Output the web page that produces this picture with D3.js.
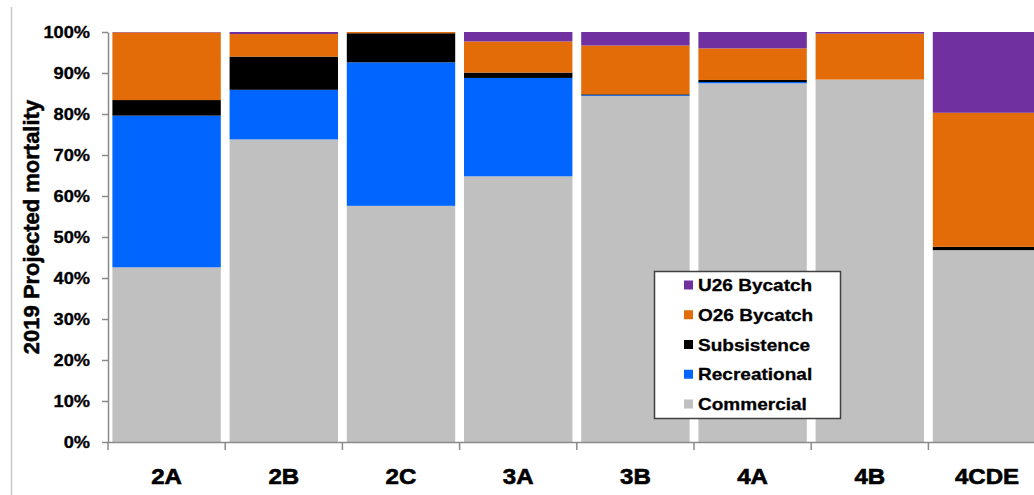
<!DOCTYPE html>
<html>
<head>
<meta charset="utf-8">
<script src="https://cdn.jsdelivr.net/npm/d3@7"></script>
<style>
  html, body { margin: 0; padding: 0; background: #fff; }
  svg { display: block; font-family: "Liberation Sans", Arial, sans-serif; }
</style>
</head>
<body>
<svg id="chart" width="1034" height="495"></svg>
<script>
const categories = ["2A", "2B", "2C", "3A", "3B", "4A", "4B", "4CDE"];
const commercial   = [42.6, 73.8, 57.6, 64.8, 84.4, 87.5, 88.4, 46.8];
const recreational = [37.0, 12.1, 35.0, 24.0, 0.2, 0.3, 0.0, 0.0];
const subsistence  = [3.8, 8.1, 7.1, 1.3, 0.2, 0.5, 0.0, 0.8];
const o26Bycatch   = [16.5, 5.5, 0.3, 7.6, 11.9, 7.7, 11.2, 32.7];
const u26Bycatch   = [0.1, 0.5, 0.0, 2.3, 3.3, 4.0, 0.4, 19.7];
const seriesNames  = ["Commercial", "Recreational", "Subsistence", "O26 Bycatch", "U26 Bycatch"];
const seriesColors = ["#c0c0c0", "#0066ff", "#000000", "#e36c09", "#7030a0"];
const yTicks = [0, 10, 20, 30, 40, 50, 60, 70, 80, 90, 100];
const yTitle = "2019 Projected mortality";

const seriesValues = [commercial, recreational, subsistence, o26Bycatch, u26Bycatch];
const rows = categories.map((c, i) => {
  const r = { cat: c };
  seriesNames.forEach((s, j) => r[s] = seriesValues[j][i]);
  return r;
});

const svg = d3.select("#chart");
const plotLeft = 108, plotRight = 1045.6, plotTop = 32, plotBottom = 442;
const axisColor = "#8a8a8a";

const x = d3.scaleBand().domain(categories).range([plotLeft, plotRight])
  .paddingInner(0.075).paddingOuter(0.0375);
const y = d3.scaleLinear().domain([0, 100]).range([plotBottom, plotTop]);
const color = d3.scaleOrdinal().domain(seriesNames).range(seriesColors);

// decorative left border line of the original screenshot
svg.append("line").attr("x1", 11.5).attr("x2", 11.5).attr("y1", 7).attr("y2", 495)
  .attr("stroke", "#c8c8c8").attr("stroke-width", 1.5);

// bars
const stacked = d3.stack().keys(seriesNames)(rows);
svg.append("g").selectAll("g").data(stacked).join("g")
  .attr("fill", d => color(d.key))
  .selectAll("rect").data(d => d).join("rect")
  .attr("x", d => x(d.data.cat))
  .attr("width", x.bandwidth())
  .attr("y", d => y(d[1]))
  .attr("height", d => Math.max(0, y(d[0]) - y(d[1])));

// y axis
const sx = 1.14;
const yAxis = svg.append("g").attr("transform", `translate(${plotLeft},0)`)
  .call(d3.axisLeft(y).tickValues(yTicks).tickFormat(d => d + "%").tickSize(6).tickSizeOuter(0));
yAxis.select(".domain").attr("stroke", axisColor).attr("stroke-width", 1.5);
yAxis.selectAll(".tick line").attr("stroke", axisColor).attr("stroke-width", 1.5);
yAxis.selectAll(".tick text")
  .attr("x", -18 / sx).attr("dy", "0.36em")
  .attr("transform", `scale(${sx},1)`)
  .attr("fill", "#000").attr("font-size", 16).attr("font-weight", "bold")
  .attr("stroke", "#000").attr("stroke-width", 0.3)
  .attr("font-family", "'Liberation Sans', Arial, sans-serif");

// x axis
const xAxis = svg.append("g").attr("transform", `translate(0,${plotBottom})`)
  .call(d3.axisBottom(x).tickSize(0).tickSizeOuter(0));
xAxis.select(".domain").attr("stroke", axisColor).attr("stroke-width", 1.5);
xAxis.selectAll(".tick text")
  .attr("y", 42).attr("dy", 0)
  .attr("transform", "scale(1.12,1)")
  .attr("fill", "#000").attr("font-size", 21.5).attr("font-weight", "bold")
  .attr("stroke", "#000").attr("stroke-width", 0.6)
  .attr("font-family", "'Liberation Sans', Arial, sans-serif");
// category boundary ticks
xAxis.append("g").selectAll("line").data(d3.range(categories.length + 1)).join("line")
  .attr("x1", i => plotLeft + i * x.step()).attr("x2", i => plotLeft + i * x.step())
  .attr("y1", 0).attr("y2", 8)
  .attr("stroke", axisColor).attr("stroke-width", 1.5);

// y title
svg.append("text")
  .attr("transform", `translate(39,227) rotate(-90)`)
  .attr("text-anchor", "middle")
  .attr("font-size", 22).attr("font-weight", "bold").attr("fill", "#000")
  .attr("stroke", "#000").attr("stroke-width", 0.5)
  .text(yTitle);

// legend
const legend = svg.append("g");
legend.append("rect").attr("x", 654.5).attr("y", 271.5).attr("width", 186).attr("height", 147)
  .attr("fill", "#fff").attr("stroke", "#404040").attr("stroke-width", 1.5);
const legendOrder = seriesNames.slice().reverse();
const ly = d3.scalePoint().domain(legendOrder).range([285, 404]);
const items = legend.selectAll("g.item").data(legendOrder).join("g").attr("class", "item")
  .attr("transform", d => `translate(684,${ly(d)})`);
items.append("rect").attr("x", 0).attr("y", -4.5).attr("width", 9).attr("height", 9)
  .attr("fill", d => color(d));
items.append("text").attr("transform", "translate(14,0) scale(1.12,1)")
  .attr("dy", "0.36em").attr("font-size", 17).attr("font-weight", "bold").attr("fill", "#000")
  .attr("stroke", "#000").attr("stroke-width", 0.3)
  .text(d => d);
</script>
</body>
</html>
